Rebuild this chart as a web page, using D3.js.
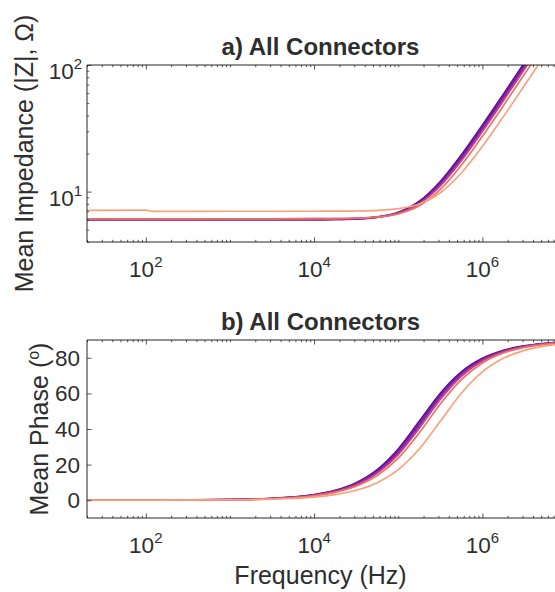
<!DOCTYPE html>
<html><head><meta charset="utf-8">
<script src="https://cdn.jsdelivr.net/npm/d3@7"></script>
<style>
body{margin:0;background:#fff}
svg{display:block}
text{font-family:"Liberation Sans",Arial,Helvetica,sans-serif;fill:#2e2e2e}
</style>
</head><body>
<svg id="c" width="555" height="592"></svg>
<script>
// ---------------- data ----------------
const freqs = [20, 100, 110, 120, 1000, 3162, 10000, 17783, 31623, 56234, 100000, 177828, 316228, 562341, 1000000, 1778279, 3162278, 7500000];

const seriesColors = ["#5a0f99", "#7414a8", "#9227a0", "#c2408c", "#ec7262", "#f8a27c"];

const impA = [6.0, 6.0, 6.0, 6.0, 6.0, 6.0, 6.01, 6.03, 6.09, 6.28, 6.85, 8.39, 12.03, 19.49, 33.5, 58.9, 104.5, 247];
const impB = [6.0, 6.0, 6.0, 6.0, 6.0, 6.0, 6.01, 6.03, 6.08, 6.26, 6.78, 8.21, 11.63, 18.70, 32.05, 56.3, 99.8, 236];
const impC = [6.05, 6.05, 6.05, 6.05, 6.05, 6.05, 6.06, 6.07, 6.13, 6.29, 6.77, 8.10, 11.34, 18.09, 30.92, 54.26, 96.1, 227];
const impD = [6.1, 6.1, 6.1, 6.1, 6.1, 6.1, 6.11, 6.12, 6.17, 6.32, 6.76, 8.01, 11.07, 17.52, 29.82, 52.27, 92.5, 219];
const impE = [6.1, 6.1, 6.1, 6.1, 6.1, 6.1, 6.11, 6.12, 6.16, 6.28, 6.66, 7.72, 10.40, 16.17, 27.32, 47.74, 84.4, 199.5];
const impF = [7.12, 7.14, 7.05, 6.98, 7.0, 7.0, 7.0, 7.01, 7.03, 7.10, 7.33, 7.99, 9.79, 14.04, 22.74, 39.1, 68.8, 162];

const phaseA = [0.01, 0.03, 0.03, 0.04, 0.31, 1.0, 3.15, 5.58, 9.86, 17.2, 28.8, 44.3, 60.1, 72.1, 79.7, 84.2, 86.7, 88.6];
const phaseB = [0.01, 0.03, 0.03, 0.04, 0.30, 0.95, 3.0, 5.33, 9.42, 16.4, 27.7, 43.0, 58.9, 71.3, 79.2, 83.9, 86.6, 88.5];
const phaseC = [0.01, 0.03, 0.03, 0.03, 0.29, 0.91, 2.87, 5.09, 9.0, 15.7, 26.6, 41.7, 57.8, 70.5, 78.7, 83.6, 86.4, 88.5];
const phaseD = [0.01, 0.03, 0.03, 0.03, 0.27, 0.87, 2.74, 4.86, 8.6, 15.1, 25.6, 40.4, 56.6, 69.6, 78.2, 83.3, 86.2, 88.4];
const phaseE = [0.01, 0.02, 0.02, 0.03, 0.25, 0.79, 2.5, 4.44, 7.86, 13.8, 23.6, 37.8, 54.1, 67.8, 77.1, 82.7, 85.9, 88.2];
const phaseF = [0.0, 0.02, 0.02, 0.02, 0.18, 0.56, 1.77, 3.15, 5.58, 9.86, 17.2, 28.8, 44.3, 60.1, 72.1, 79.7, 84.2, 87.5];

const xTickExps = [2, 4, 6];
const impTickExps = [1, 2];
const phaseTicks = [0, 20, 40, 60, 80];
const titles = ["a) All Connectors", "b) All Connectors"];
const xLabel = "Frequency (Hz)";

// ---------------- layout ----------------
const svg = d3.select("#c");
const L = 87, R = 556;
const x = d3.scaleLog().domain([20, 7.5e6]).range([L, R]);
const yZ = d3.scaleLog().domain([4, 100]).range([242, 65]);
const yP = d3.scaleLinear().domain([-10, 90]).range([518, 340]);
const axisColor = "#262626";

const xMajor = xTickExps.map(e => Math.pow(10, e));
const xMinor = [];
for (let d = 1; d <= 6; d++) for (let m = 1; m <= 9; m++) {
  const v = m * Math.pow(10, d);
  if (v >= 20 && v <= 7.5e6 && !xMajor.includes(v)) xMinor.push(v);
}
const zMajor = impTickExps.map(e => Math.pow(10, e));
const zMinor = [];
for (let d = 0; d <= 1; d++) for (let m = 2; m <= 9; m++) {
  const v = m * Math.pow(10, d);
  if (v >= 4 && v <= 100) zMinor.push(v);
}

function panel(idx, y, yMajor, yMinor, yLabelFmt, datasets, yLabelPos, yLabelBuild) {
  const g = svg.append("g");
  const top = y.range()[1], bot = y.range()[0];
  const clipId = "clip" + idx;
  svg.append("clipPath").attr("id", clipId).append("rect")
    .attr("x", L).attr("y", top).attr("width", R - L).attr("height", bot - top);

  // data lines
  const line = d3.line().x((d, i) => x(freqs[i])).y(d => y(d)).curve(d3.curveMonotoneX);
  const lg = g.append("g").attr("clip-path", `url(#${clipId})`);
  datasets.forEach((ds, k) => {
    lg.append("path").attr("d", line(ds)).attr("fill", "none")
      .attr("stroke", seriesColors[k]).attr("stroke-width", 1.7)
      .attr("stroke-linejoin", "round").attr("stroke-linecap", "round");
  });

  // ticks
  const addAxis = (ax, tx, ty) => {
    const a = g.append("g").attr("transform", `translate(${tx},${ty})`).attr("color", axisColor).call(ax);
    a.select(".domain").remove();
    a.selectAll("line").attr("stroke-width", 0.8);
  };
  addAxis(d3.axisBottom(x).tickValues(xMajor).tickSize(-4.5).tickFormat(""), 0, bot);
  addAxis(d3.axisBottom(x).tickValues(xMinor).tickSize(-2.2).tickFormat(""), 0, bot);
  addAxis(d3.axisTop(x).tickValues(xMajor).tickSize(-4.5).tickFormat(""), 0, top);
  addAxis(d3.axisTop(x).tickValues(xMinor).tickSize(-2.2).tickFormat(""), 0, top);
  addAxis(d3.axisLeft(y).tickValues(yMajor).tickSize(-4.5).tickFormat(""), L, 0);
  if (yMinor.length) addAxis(d3.axisLeft(y).tickValues(yMinor).tickSize(-2.2).tickFormat(""), L, 0);

  // box
  g.append("path").attr("d", `M${R},${top}H${L}V${bot}H${R}`)
    .attr("fill", "none").attr("stroke", axisColor).attr("stroke-width", 1);

  // x tick labels
  xTickExps.forEach(e => {
    const t = g.append("text").attr("x", x(Math.pow(10, e))).attr("y", bot + 35)
      .attr("text-anchor", "middle").attr("font-size", 22.5);
    t.append("tspan").text("10");
    t.append("tspan").attr("dy", -10).attr("font-size", 15).text(String(e));
  });
  // y tick labels
  yMajor.forEach(v => yLabelFmt(g, v));

  // title
  g.append("text").attr("x", (L + 554) / 2).attr("y", top - 10).attr("text-anchor", "middle")
    .attr("font-size", 24).attr("font-weight", "bold").text(titles[idx]);

  // y label
  const yl = g.append("text").attr("transform", `translate(${yLabelPos},${(top + bot) / 2}) rotate(-90)`)
    .attr("text-anchor", "middle").attr("font-size", 25);
  yLabelBuild(yl);
  return g;
}

panel(0, yZ, zMajor, zMinor, (g, v) => {
  const t = g.append("text").attr("x", 82).attr("y", yZ(v) + 14).attr("text-anchor", "end").attr("font-size", 22.5);
  t.append("tspan").text("10");
  t.append("tspan").attr("dy", -10).attr("font-size", 15).text(String(Math.round(Math.log10(v))));
}, [impA, impB, impC, impD, impE, impF], 33, t => {
  t.text("Mean Impedance (|Z|, \u03A9)");
});

panel(1, yP, phaseTicks, [], (g, v) => {
  g.append("text").attr("x", 80).attr("y", yP(v) + 8).attr("text-anchor", "end").attr("font-size", 22.5).text(String(v));
}, [phaseA, phaseB, phaseC, phaseD, phaseE, phaseF], 48, t => {
  t.append("tspan").text("Mean Phase (");
  t.append("tspan").attr("dy", -9).attr("font-size", 16).text("o");
  t.append("tspan").attr("dy", 9).text(")");
});

// x label
svg.append("text").attr("x", (L + 554) / 2).attr("y", 584).attr("text-anchor", "middle")
  .attr("font-size", 25).text(xLabel);
</script>
</body></html>
